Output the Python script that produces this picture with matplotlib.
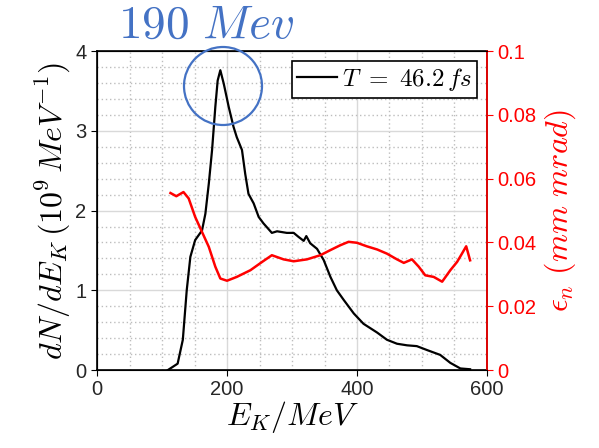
import matplotlib
matplotlib.use("Agg")
import matplotlib.pyplot as plt
from matplotlib.patches import Ellipse
from matplotlib.ticker import MultipleLocator

plt.rcParams['mathtext.fontset'] = 'cm'
plt.rcParams['font.family'] = ['Liberation Sans', 'DejaVu Sans']

# spectrum dN/dE_K (10^9 MeV^-1)
e_spec = [109, 124, 132, 138, 143.6, 151, 161.5, 166.7, 172, 177, 182, 185.6, 189.7,
          195, 202.6, 210, 215, 223, 228, 233, 241, 248.7, 256, 269, 277, 292, 302.6,
          310, 318, 322, 328, 338.5, 348.7, 359, 369, 379.5, 395, 410, 431, 446,
          461.5, 477, 492, 508, 528, 543.6, 559, 574]
dn = [0.0, 0.08, 0.38, 1.0, 1.42, 1.63, 1.75, 1.96, 2.34, 2.76, 3.3, 3.63, 3.76,
      3.59, 3.3, 3.05, 2.92, 2.76, 2.46, 2.21, 2.09, 1.92, 1.84, 1.72, 1.74, 1.72, 1.72,
      1.67, 1.62, 1.68, 1.59, 1.52, 1.38, 1.17, 1.0, 0.88, 0.71, 0.58, 0.47, 0.38,
      0.33, 0.31, 0.30, 0.25, 0.19, 0.09, 0.02, 0.01]

# emittance (mm mrad)
e_emit = [113, 122, 133, 141, 151, 161.5, 172, 182, 189.7, 200, 215, 236, 254, 269,
          287, 302.6, 323, 343.6, 359, 374, 387, 400, 415, 431, 446, 461.5, 472,
          484.6, 495, 505, 518, 531, 543.6, 554, 561.5, 568, 574]
emit = [0.0555, 0.0545, 0.0558, 0.0538, 0.048, 0.0433, 0.0386, 0.0324, 0.0287, 0.028,
        0.0292, 0.0313, 0.0339, 0.036, 0.0347, 0.0341, 0.0347, 0.036, 0.0376, 0.0391,
        0.0402, 0.0399, 0.0388, 0.0378, 0.0365, 0.0347, 0.0336, 0.0347, 0.0324,
        0.0297, 0.0292, 0.0277, 0.0313, 0.0339, 0.0365, 0.0388, 0.0344]

emit_ticks = [0, 0.02, 0.04, 0.06, 0.08, 0.1]
emit_labels = ['0', '0.02', '0.04', '0.06', '0.08', '0.1']

fig = plt.figure(figsize=(5.99, 4.48), dpi=100)
ax = fig.add_axes([0.162, 0.174, 0.651, 0.712])

ax.plot(e_spec, dn, color='k', lw=1.6, label=r'$T\ =\ 46.2\,fs$')
ax.set_xlim(0, 600)
ax.set_ylim(0, 4)
ax.xaxis.set_major_locator(MultipleLocator(200))
ax.xaxis.set_minor_locator(MultipleLocator(50))
ax.yaxis.set_major_locator(MultipleLocator(1))
ax.yaxis.set_minor_locator(MultipleLocator(0.2))
ax.grid(which='major', color='#d9d9d9', lw=1.0, ls='-')
ax.grid(which='minor', color='#bdbdbd', lw=1.0, ls=(0, (1, 2)))
ax.set_axisbelow(True)
ax.tick_params(which='major', direction='out', length=4, labelsize=14.5, colors='k',
               labelcolor='#262626')
ax.tick_params(which='minor', length=0)
ax.set_xlabel(r'$E_K/MeV$', fontsize=23, labelpad=0)
ax.set_ylabel(r'$dN/dE_K\,(10^9\,MeV^{-1})$', fontsize=23, labelpad=2)
for s in ax.spines.values():
    s.set_linewidth(1.2)

leg = ax.legend(loc='upper right', fontsize=18, handlelength=1.6, handletextpad=0.2,
                borderpad=0.2, fancybox=False, framealpha=1, edgecolor='k',
                borderaxespad=0.4)
leg.get_frame().set_linewidth(1.2)

ax2 = ax.twinx()
ax2.plot(e_emit, emit, color='red', lw=1.8)
ax2.set_ylim(0, 0.1)
ax2.set_yticks(emit_ticks)
ax2.set_yticklabels(emit_labels)
ax2.tick_params(direction='out', length=4, labelsize=14.5, colors='red')
ax2.spines['right'].set_color('red')
ax2.spines['right'].set_linewidth(1.2)
ax2.set_ylabel(r'$\epsilon_n\ (mm\ mrad)$', fontsize=23, color='red', labelpad=4)

fig.add_artist(Ellipse((223 / 599, 1 - 86 / 448), 78 / 599, 78 / 448,
                       transform=fig.transFigure, fill=False,
                       edgecolor='#4472C4', lw=1.6))
fig.text(206 / 599, 1 - 26 / 448, r'$\mathrm{190}\ Mev$', color='#4472C4',
         fontsize=34, ha='center', va='center')

fig.savefig('out.png', dpi=100)
